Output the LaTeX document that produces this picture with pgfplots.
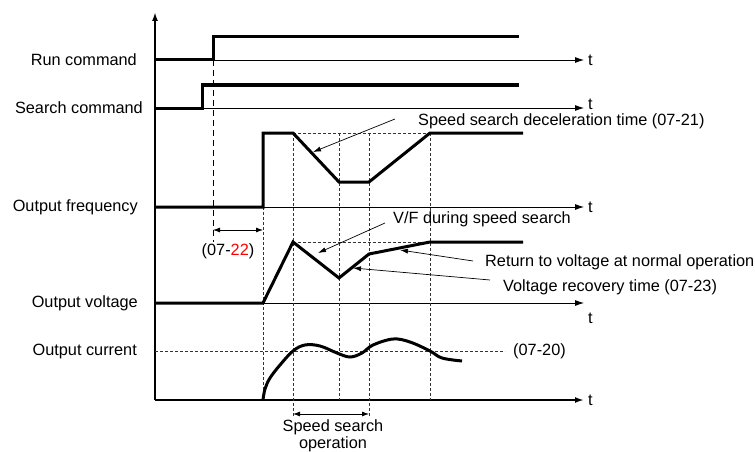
\documentclass[border=0pt]{standalone}
\usepackage{pgfplots}
\pgfplotsset{compat=1.18}
\usetikzlibrary{arrows.meta}
\usepackage{fontspec}
\setmainfont{Liberation Sans}

\begin{document}
\begin{tikzpicture}[
    lbl/.style={font=\fontsize{16.3}{19}\selectfont, inner sep=0pt},
    thin/.style={line width=0.8pt},
    dsh/.style={line width=0.8pt, black!80, dash pattern=on 3pt off 2pt},
    tip/.style={-{Latex[length=9pt,width=6pt]}},
    ann/.style={line width=0.7pt, -{Latex[length=8pt,width=5pt]}},
    dbl/.style={line width=0.8pt, {Latex[length=7pt,width=5pt]}-{Latex[length=7pt,width=5pt]}},
]
\begin{axis}[
    x=1pt, y=1pt, y dir=reverse,
    xmin=0, xmax=755, ymin=0, ymax=452,
    hide axis, clip=false,
    sig/.style={line width=3pt, black, mark=none},
]
% time axes
\draw[line width=1.8pt, tip] (axis cs:155,400) -- (axis cs:155,12);
\draw[line width=1.8pt, tip] (axis cs:155,400) -- (axis cs:584,400);
\pgfplotsinvokeforeach{60,108,207,303}{
  \draw[thin, tip] (axis cs:155,#1) -- (axis cs:584,#1);
}

% guide lines
\draw[line width=0.8pt, dash pattern=on 6pt off 4pt] (axis cs:213,60) -- (axis cs:213,242);
\draw[dsh] (axis cs:263,207) -- (axis cs:263,400);
\draw[dsh] (axis cs:293,133) -- (axis cs:293,417);
\draw[dsh] (axis cs:339,133) -- (axis cs:339,400);
\draw[dsh] (axis cs:369,133) -- (axis cs:369,417);
\draw[dsh] (axis cs:430,133) -- (axis cs:430,400);
\draw[dsh] (axis cs:293,133) -- (axis cs:430,133);
\draw[dsh] (axis cs:293,242) -- (axis cs:430,242);
\draw[dsh] (axis cs:155,351) -- (axis cs:505,351);

% signals
\addplot[sig] coordinates {(155,60) (213,60) (213,37) (519,37)};
\addplot[sig] coordinates {(155,108) (202,108) (202,85) (519,85)};
\addplot[sig] coordinates {(155,207) (263,207) (263,133) (293,133) (339,182) (369,182) (430,133) (523,133)};
\addplot[sig] coordinates {(155,303) (263,303) (293,242) (339,278) (369,254) (430,242) (523,242)};
\addplot[sig, smooth, tension=0.6] coordinates {
  (263,400) (265,389) (270,378) (280,365) (293,351) (305,345) (320,346)
  (337,353) (350,357) (362,353) (373,345) (393,339) (410,342) (430,351)
  (442,358) (462,361)};

% double arrows
\draw[dbl] (axis cs:213,230) -- (axis cs:263,230);
\draw[dbl] (axis cs:293,414) -- (axis cs:369,414);

% annotation arrows
\draw[ann] (axis cs:395,119) -- (axis cs:313,152);
\draw[ann] (axis cs:385,223) -- (axis cs:318,253);
\draw[ann] (axis cs:473,261) -- (axis cs:400,250);
\draw[ann] (axis cs:490,280) -- (axis cs:353,268);

% left labels
\node[lbl, anchor=east] at (axis cs:137,60) {Run command};
\node[lbl, anchor=east] at (axis cs:143,108) {Search command};
\node[lbl, anchor=east] at (axis cs:138,207) {Output frequency};
\node[lbl, anchor=east] at (axis cs:138,303) {Output voltage};
\node[lbl, anchor=east] at (axis cs:137,351) {Output current};

% t labels
\node[lbl, anchor=west] at (axis cs:588,60) {t};
\node[lbl, anchor=west] at (axis cs:588,104) {t};
\node[lbl, anchor=west] at (axis cs:588,207) {t};
\node[lbl, anchor=west] at (axis cs:588,318) {t};
\node[lbl, anchor=west] at (axis cs:588,400) {t};

% annotations
\node[lbl, anchor=west] at (axis cs:418,121) {Speed search deceleration time (07-21)};
\node[lbl, anchor=west] at (axis cs:393,219) {V/F during speed search};
\node[lbl, anchor=west] at (axis cs:485,262) {Return to voltage at normal operation};
\node[lbl, anchor=west] at (axis cs:503,287) {Voltage recovery time (07-23)};
\node[lbl, anchor=west] at (axis cs:513,351) {(07-20)};
\node[lbl] at (axis cs:228,251) {(07-\textcolor{red}{22})};
\node[lbl, anchor=base] at (axis cs:333,431) {Speed search};
\node[lbl, anchor=base] at (axis cs:333,448) {operation};
\end{axis}
\pgfresetboundingbox
\path (current axis.south west) rectangle (current axis.north east);
\end{tikzpicture}
\end{document}
